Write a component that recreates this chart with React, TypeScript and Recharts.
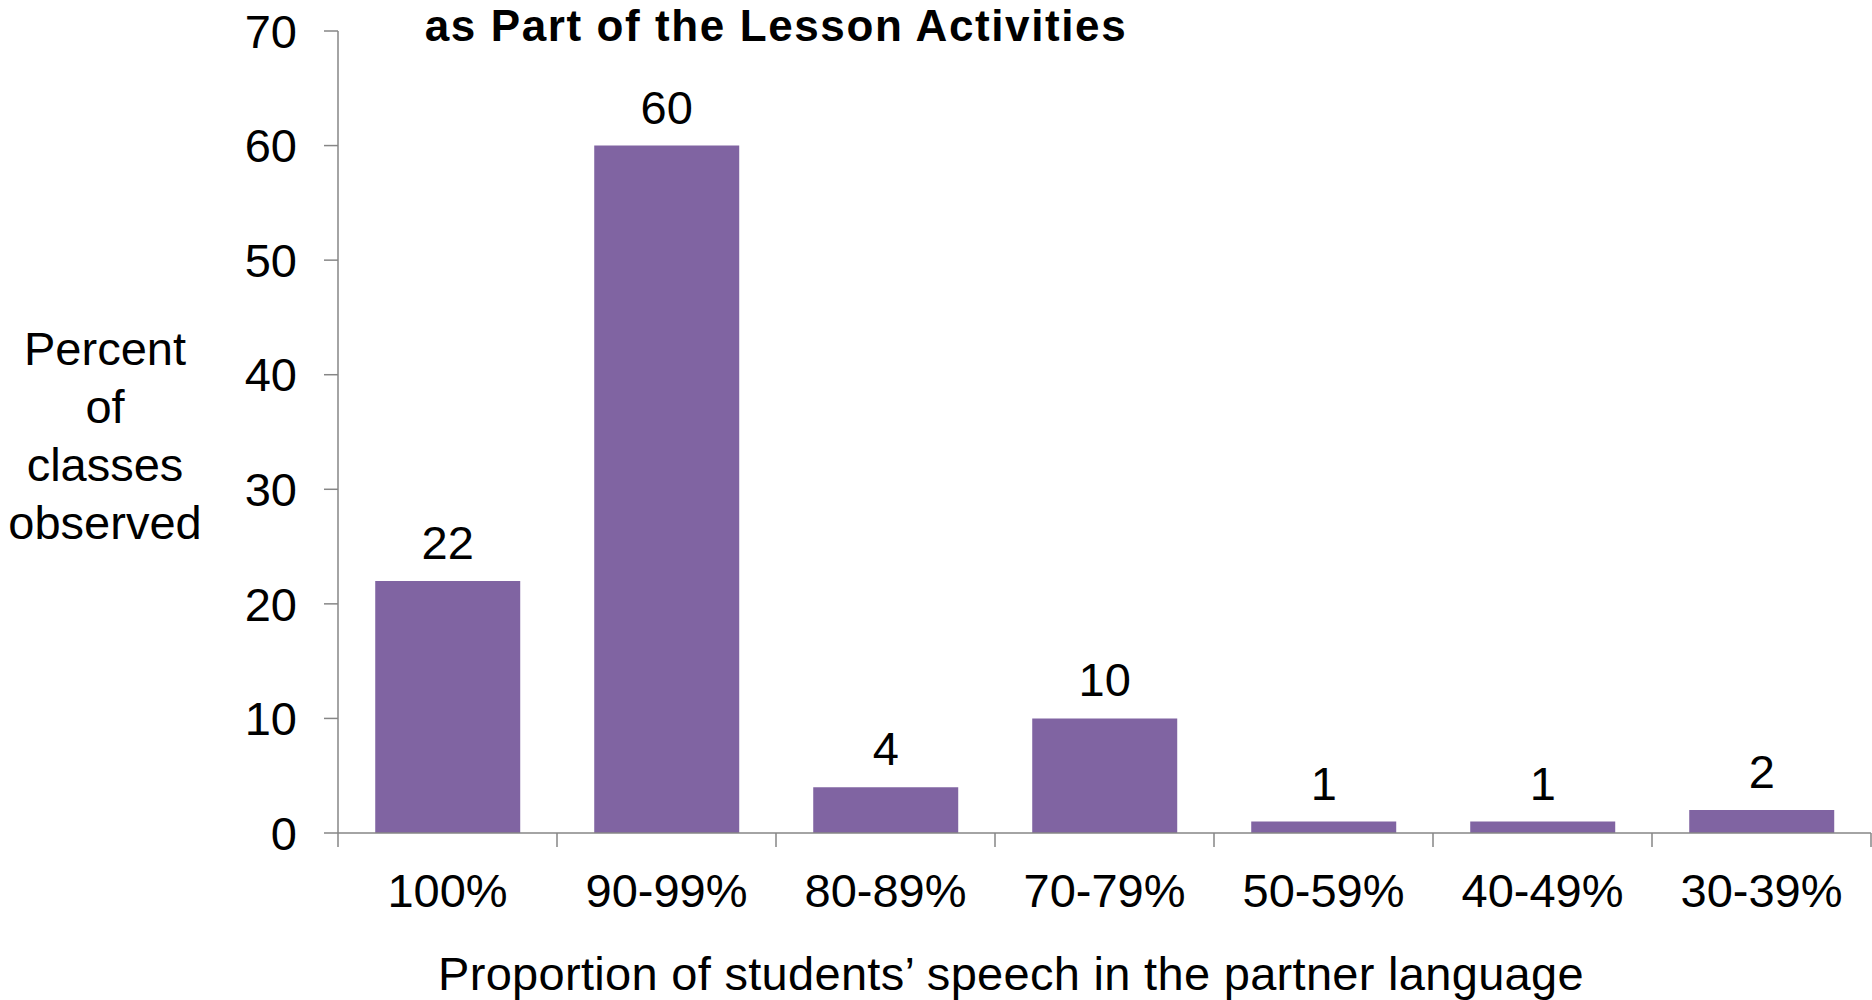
import React from 'react';
import { BarChart, Bar, XAxis, YAxis, LabelList } from 'recharts';

const categories = ['100%', '90-99%', '80-89%', '70-79%', '50-59%', '40-49%', '30-39%'];
const percentObserved = [22, 60, 4, 10, 1, 1, 2];
const yTicks = [0, 10, 20, 30, 40, 50, 60, 70];
const yLabelLines = ['Percent', 'of', 'classes', 'observed'];

const data = categories.map((name, i) => ({ name, value: percentObserved[i] }));

const FONT = '"Liberation Sans", Arial, sans-serif';
const AXIS = '#868686';
const BAR = '#8064A2';

const CategoryTick = (props: any) => {
    const { x, y, payload, index, visibleTicksCount } = props;
    const half = payload && payload.offset != null ? payload.offset : 109.5;
    const last = index === (visibleTicksCount ?? categories.length) - 1;
    return (
        <g>
            <line x1={x - half} y1={y} x2={x - half} y2={y + 14} stroke={AXIS} strokeWidth={1.5} />
            {last && <line x1={x + half} y1={y} x2={x + half} y2={y + 14} stroke={AXIS} strokeWidth={1.5} />}
            <text x={x} y={y + 74} textAnchor="middle" fill="#000" fontSize={47} fontFamily={FONT}>
                {payload.value}
            </text>
        </g>
    );
};

export default function App() {
    return (
        <div style={{ position: 'absolute', left: 0, top: 0, width: 1872, height: 1000, background: '#fff' }}>
            <BarChart
                width={1872}
                height={1000}
                data={data}
                margin={{ top: 31, right: 1, left: 0, bottom: 0 }}
                barCategoryGap="17%"
            >
                <XAxis
                    dataKey="name"
                    height={167}
                    axisLine={{ stroke: AXIS, strokeWidth: 1.5 }}
                    tickLine={false}
                    tickSize={0}
                    tickMargin={0}
                    interval={0}
                    tick={<CategoryTick />}
                />
                <YAxis
                    width={338}
                    domain={[0, 70]}
                    ticks={yTicks}
                    interval={0}
                    axisLine={{ stroke: AXIS, strokeWidth: 1.5 }}
                    tickLine={{ stroke: AXIS, strokeWidth: 1.5 }}
                    tickSize={14}
                    tickMargin={27}
                    tick={{ fill: '#000', fontSize: 47, fontFamily: FONT }}
                />
                <Bar dataKey="value" fill={BAR} isAnimationActive={false}>
                    <LabelList
                        dataKey="value"
                        position="top"
                        offset={22}
                        fill="#000"
                        fontSize={47}
                        fontFamily={FONT}
                    />
                </Bar>
                <text x={776} y={41} textAnchor="middle" fontSize={44} letterSpacing={1.6} fontWeight="bold" fontFamily={FONT} fill="#000">
                    as Part of the Lesson Activities
                </text>
                <text textAnchor="middle" fontSize={47} fontFamily={FONT} fill="#000">
                    {yLabelLines.map((line, i) => (
                        <tspan key={line} x={105} y={365 + i * 58}>{line}</tspan>
                    ))}
                </text>
                <text x={1011} y={990} textAnchor="middle" fontSize={47} letterSpacing={0.3} fontFamily={FONT} fill="#000">
                    Proportion of students’ speech in the partner language
                </text>
            </BarChart>
        </div>
    );
}
